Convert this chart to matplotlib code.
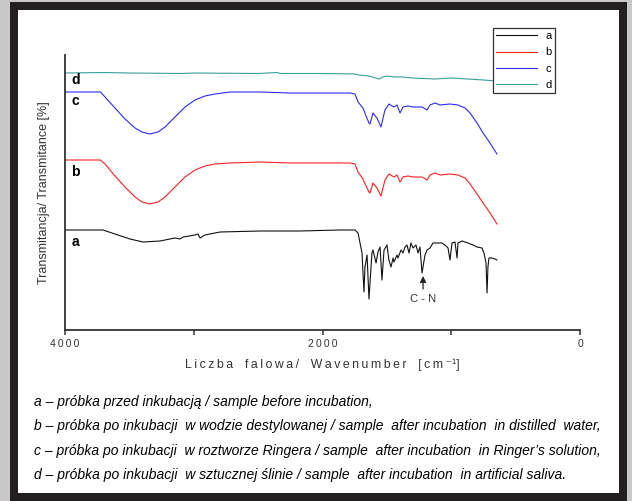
import matplotlib
matplotlib.use("Agg")
import matplotlib.pyplot as plt
from matplotlib.patches import Rectangle

# FTIR spectra, wavenumber [cm-1] vs transmittance (stacked, arbitrary offset units)
wn_a = [4000, 3705, 3612, 3495, 3394, 3262, 3146, 3107, 3083, 2990, 2967, 2951,
        2913, 2796, 2485, 2175, 1864, 1748, 1724, 1693, 1678, 1670, 1654, 1639,
        1616, 1608, 1584, 1569, 1553, 1538, 1522, 1499, 1484, 1468, 1452, 1445,
        1421, 1414, 1390, 1375, 1359, 1344, 1328, 1313, 1297, 1274, 1258, 1243,
        1227, 1204, 1188, 1165, 1142, 1103, 1072, 1049, 1025, 1010, 994, 971,
        955, 948, 917, 893, 870, 831, 800, 761, 746, 730, 722, 715, 707, 684,
        660, 645]
t_a = [100, 100, 96, 91, 88, 89, 92, 91, 93, 95, 96, 92,
       95, 98, 99, 99, 100, 100, 97, 77, 38, 63, 75, 31,
       77, 80, 67, 78, 83, 50, 80, 85, 70, 63, 72, 68,
       75, 72, 80, 77, 83, 85, 77, 87, 82, 85, 77, 83,
       57, 75, 80, 82, 87, 87, 87, 85, 82, 70, 87, 88,
       72, 87, 89, 88, 87, 85, 83, 82, 77, 67, 37, 63, 72, 72,
       71, 70]

wn_bc = [4000, 3725, 3689, 3612, 3534, 3456, 3402, 3340, 3278, 3223, 3146, 3068,
         2990, 2913, 2835, 2718, 2485, 2252, 1942, 1786, 1748, 1724, 1686, 1662,
         1639, 1631, 1608, 1577, 1546, 1515, 1484, 1445, 1421, 1398, 1375, 1336,
         1297, 1227, 1188, 1165, 1126, 1087, 1010, 948, 893, 854, 800, 753, 699, 645]
t_b = [170, 170, 166, 154, 143, 133, 128, 126, 128, 133, 143, 153,
       160, 164, 166, 167, 168, 167, 167, 167, 166, 158, 151, 144,
       138, 137, 147, 142, 134, 150, 156, 153, 155, 148, 153, 154,
       153, 153, 150, 155, 157, 155, 156, 155, 152, 146, 136, 127, 117, 106]
t_c = [238, 238, 233, 222, 211, 202, 198, 196, 198, 203, 213, 223,
       230, 234, 236, 238, 238, 237, 237, 237, 236, 228, 222, 214,
       207, 206, 217, 212, 203, 220, 226, 223, 225, 217, 223, 224,
       223, 223, 220, 225, 227, 225, 226, 225, 222, 217, 207, 197, 187, 176]

wn_d = [4000, 3700, 3500, 3100, 3000, 2500, 2350, 2330, 2000, 1750, 1720, 1640,
        1560, 1530, 1500, 1440, 1375, 1300, 1126, 1000, 870, 750, 645]
t_d = [257, 257.5, 257, 256.5, 257, 256.5, 257.5, 256.5, 256.5, 256, 255, 254,
       251, 253, 254, 253, 253, 252, 251, 252, 251, 250, 249]

series = ["a", "b", "c", "d"]
colors = ["#111111", "#ff2020", "#2a2aff", "#36a09a"]

captions = [
    "a \u2013 próbka przed inkubacją / sample before incubation,",
    "b \u2013 próbka po inkubacji  w wodzie destylowanej / sample  after incubation  in distilled  water,",
    "c \u2013 próbka po inkubacji  w roztworze Ringera / sample  after incubation  in Ringer\u2019s solution,",
    "d \u2013 próbka po inkubacji  w sztucznej ślinie / sample  after incubation  in artificial saliva.",
]

plt.rcParams['font.family'] = ['Liberation Sans', 'DejaVu Sans']

W, H = 632, 501
fig = plt.figure(figsize=(W / 100, H / 100), dpi=100, facecolor="#c8c8c8")
fig.patches.append(Rectangle((10 / W, 0), 617 / W, 499 / H, transform=fig.transFigure,
                             facecolor="#231f20", edgecolor="none", zorder=-2))
fig.patches.append(Rectangle((18 / W, 8 / H), 601 / W, 483 / H, transform=fig.transFigure,
                             facecolor="white", edgecolor="none", zorder=-1))

ax = fig.add_axes([65 / W, 171 / H, 515 / W, 275 / H])
ax.set_facecolor("none")

ax.plot(wn_a, t_a, color=colors[0], lw=0.8, label=series[0])
ax.plot(wn_bc, t_b, color=colors[1], lw=0.8, label=series[1])
ax.plot(wn_bc, t_c, color=colors[2], lw=0.8, label=series[2])
ax.plot(wn_d, t_d, color=colors[3], lw=0.8, label=series[3])

ax.set_xlim(4000, 0)
ax.set_ylim(0, 275)

for sp in ["top", "right"]:
    ax.spines[sp].set_visible(False)
for sp in ["left", "bottom"]:
    ax.spines[sp].set_color("#333333")
    ax.spines[sp].set_linewidth(1.3)

ax.set_yticks([])
ax.set_xticks([4000, 2000, 0])
ax.set_xticks([3000, 1000], minor=True)
ax.set_xticklabels(["\u2009".join(s) for s in ["4000", "2000", "0"]])
ax.tick_params(axis="x", which="both", direction="out", length=3.5, width=1.1,
               color="#333333", labelsize=7.5, labelcolor="#333333", pad=3)

xlab = "Liczba falowa/ Wavenumber [cm"
xlab = "\u2009".join(xlab) + "\u2009\u207b\u00b9]"
ax.set_xlabel(xlab.replace(" ", "  "), fontsize=8.8, color="#333333", labelpad=7)
ax.set_ylabel("Transmitancja/ Transmitance [%]", fontsize=9, color="#333333", labelpad=11)

# curve letters next to the axis
for lab, yv in zip(series, [88, 158, 229, 250]):
    ax.text(3950, yv, lab, fontsize=10, fontweight="bold", ha="left", va="center")

ax.annotate("", xy=(1219, 54), xytext=(1219, 41),
            arrowprops=dict(arrowstyle="-|>", color="#222222", lw=0.9,
                            mutation_scale=9, shrinkA=0, shrinkB=0))
ax.text(1219, 31, "C - N", ha="center", va="center", fontsize=8, color="#333333")

leg = ax.legend(loc="upper left", bbox_to_anchor=(493 / W, 1 - 28 / H),
                bbox_transform=fig.transFigure, fontsize=8, frameon=True,
                fancybox=False, framealpha=1, edgecolor="#333333",
                handlelength=3.7, handletextpad=0.7, borderpad=0.3,
                borderaxespad=0, labelspacing=0.55)
leg.get_frame().set_linewidth(0.9)

for i, line in enumerate(captions):
    fig.text(34 / W, 1 - (402 + 24.4 * i) / H, line, fontsize=10, style="italic",
             ha="left", va="center")

fig.savefig("out.png", dpi=100, facecolor=fig.get_facecolor())
